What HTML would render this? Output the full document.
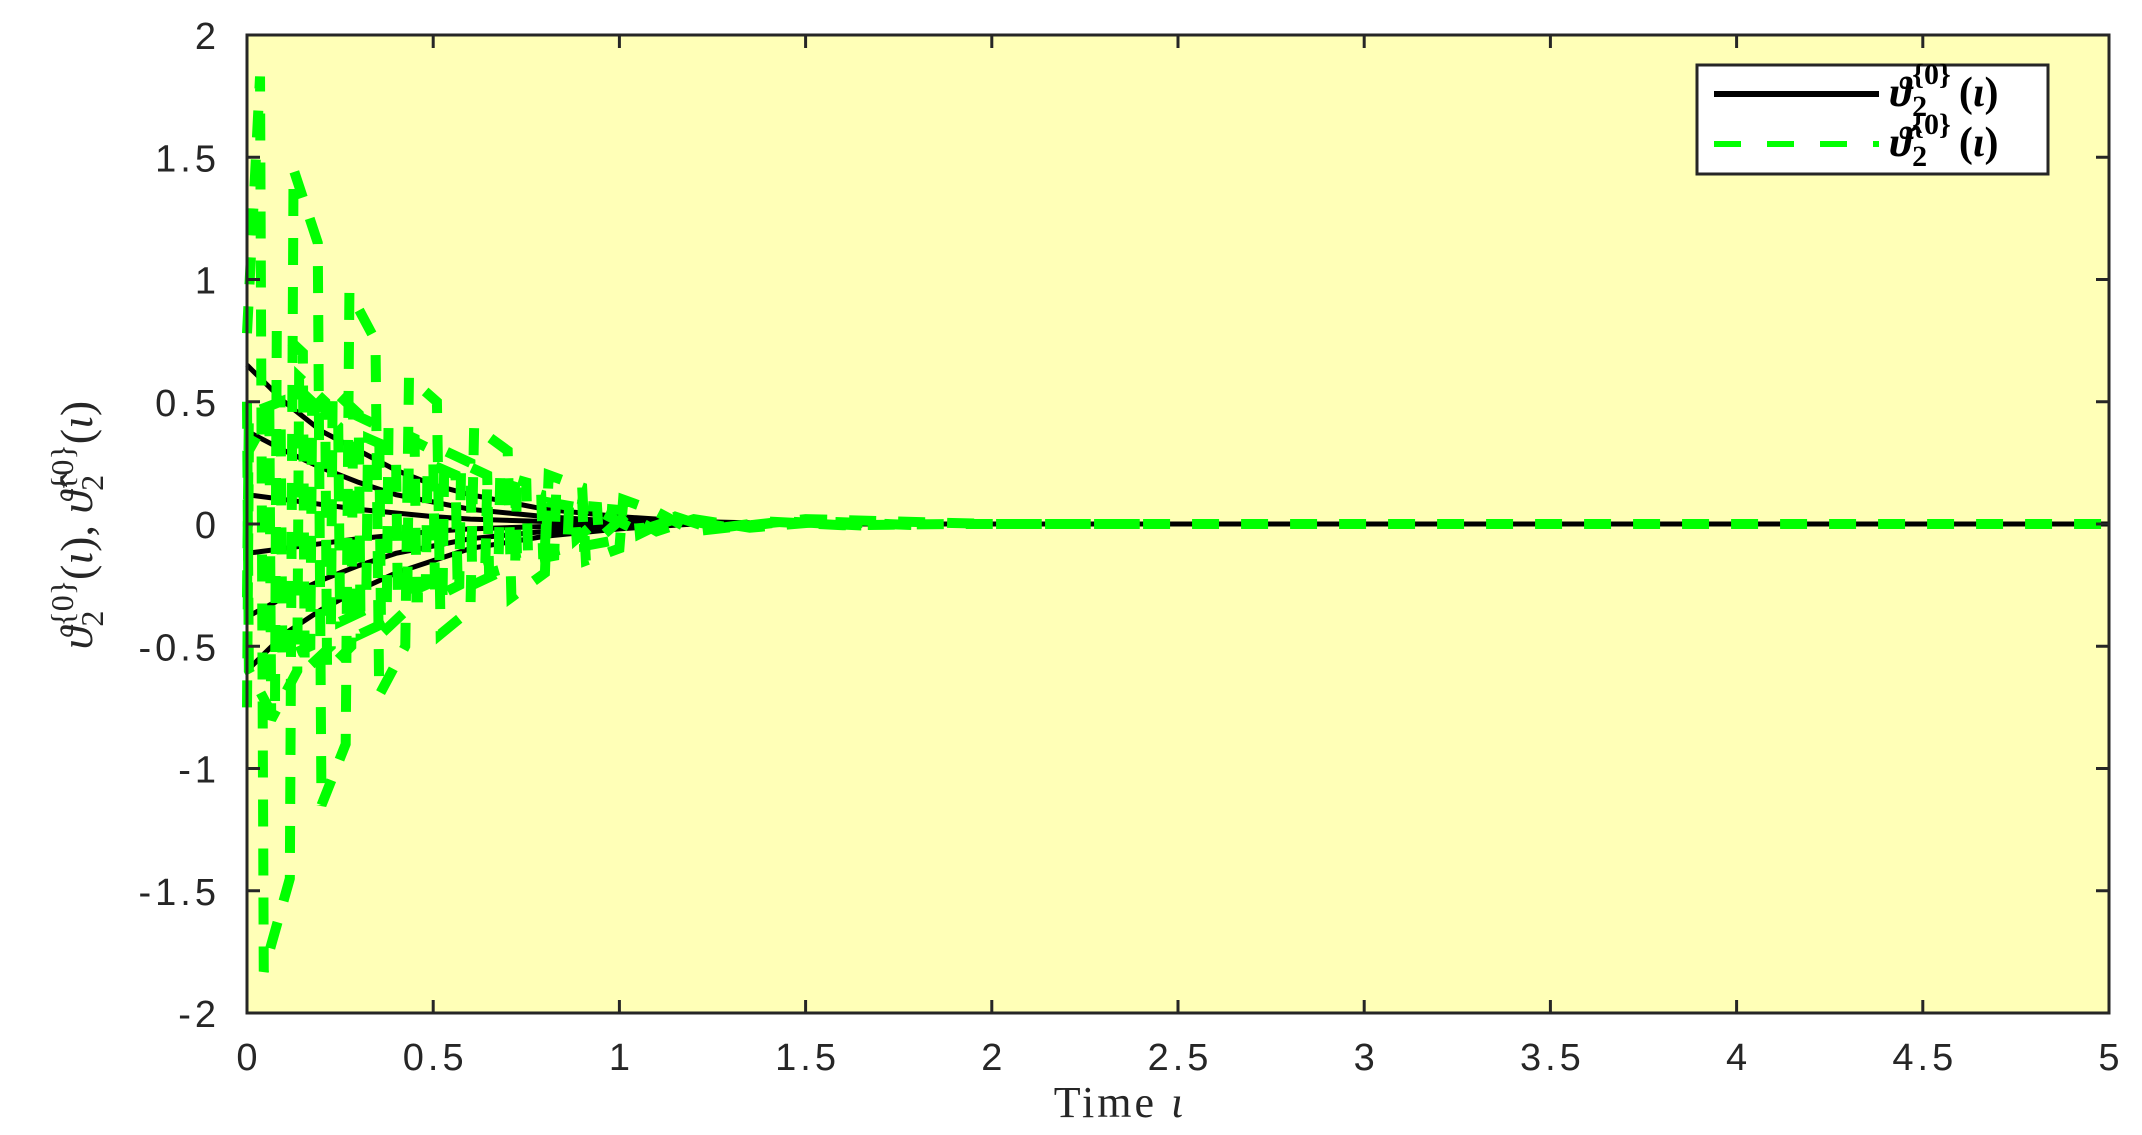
<!DOCTYPE html>
<html><head><meta charset="utf-8"><style>
html,body{margin:0;padding:0;background:#fff;}
svg{display:block;}
</style></head><body>
<svg id="chart" width="2142" height="1135" viewBox="0 0 2142 1135" xmlns="http://www.w3.org/2000/svg">
<rect x="247" y="35" width="1862" height="978" fill="#ffffb7"/>
<g id="marks"></g>
<g id="axes"></g>
<text x="1120" y="1117" font-family="Liberation Serif, serif" font-size="44" fill="#262626" text-anchor="middle" letter-spacing="3">Time   <tspan font-style="italic">ι</tspan></text>
<text transform="translate(92,525) rotate(-90)" font-family="Liberation Serif, serif" font-size="46" fill="#262626" text-anchor="middle"><tspan font-style="italic">ϑ</tspan><tspan font-size="32" dy="11">2</tspan><tspan font-size="32" dy="-30" dx="-16">{0}</tspan><tspan dy="19">(</tspan><tspan font-style="italic">ι</tspan>),  <tspan font-style="italic">ϑ̂</tspan><tspan font-size="32" dy="11">2</tspan><tspan font-size="32" dy="-30" dx="-16">{0}</tspan><tspan dy="19">(</tspan><tspan font-style="italic">ι</tspan>)</text>
<g>
<rect x="1697" y="65" width="351" height="109" fill="#fff" stroke="#262626" stroke-width="3"/>
<line x1="1714" y1="94" x2="1879" y2="94" stroke="#000" stroke-width="6"/>
<line x1="1714" y1="144" x2="1879" y2="144" stroke="#00ff00" stroke-width="6" stroke-dasharray="27 26"/>
<text x="1890" y="106" font-family="Liberation Serif, serif" font-size="42" font-weight="bold" fill="#000"><tspan font-style="italic">ϑ</tspan><tspan font-size="30" dy="10">2</tspan><tspan font-size="30" dy="-32" dx="-15">{0}</tspan><tspan dy="22" dx="8">(</tspan><tspan font-style="italic">ι</tspan>)</text>
<text x="1890" y="156" font-family="Liberation Serif, serif" font-size="42" font-weight="bold" fill="#000"><tspan font-style="italic">ϑ̂</tspan><tspan font-size="30" dy="10">2</tspan><tspan font-size="30" dy="-32" dx="-15">{0}</tspan><tspan dy="22" dx="8">(</tspan><tspan font-style="italic">ι</tspan>)</text>
</g>
</svg>
<script>
const xTicks=[0,0.5,1,1.5,2,2.5,3,3.5,4,4.5,5];
const xTickLabels=["0","0.5","1","1.5","2","2.5","3","3.5","4","4.5","5"];
const yTicks=[-2,-1.5,-1,-0.5,0,0.5,1,1.5,2];
const yTickLabels=["-2","-1.5","-1","-0.5","0","0.5","1","1.5","2"];
const blackT=[0,0.1,0.2,0.3,0.4,0.5,0.6,0.8,1.0,1.2,1.5,2,5];
const black1=[0.65,0.5,0.38,0.3,0.22,0.16,0.12,0.06,0.03,0.01,0,0,0];
const black2=[0.38,0.3,0.23,0.17,0.12,0.09,0.06,0.03,0.01,0,0,0,0];
const black3=[0.12,0.1,0.08,0.06,0.045,0.03,0.02,0.01,0,0,0,0,0];
const black4=[-0.12,-0.1,-0.08,-0.06,-0.045,-0.03,-0.02,-0.01,0,0,0,0,0];
const black5=[-0.38,-0.3,-0.23,-0.17,-0.12,-0.09,-0.06,-0.03,-0.01,0,0,0,0];
const black6=[-0.6,-0.45,-0.35,-0.27,-0.2,-0.15,-0.1,-0.05,-0.02,0,0,0,0];
const g1T=[0,0.035,0.045,0.115,0.125,0.19,0.2,0.265,0.275,0.345,0.355,0.425,0.435,0.51,0.52,0.6,0.61,0.7,0.71,0.8,0.81,0.9,0.91,1.0,1.01,1.1,1.2,1.5,2,5];
const g1V=[0.78,1.83,-1.83,-1.45,1.45,1.15,-1.15,-0.9,0.95,0.75,-0.7,-0.5,0.6,0.5,-0.45,-0.35,0.4,0.3,-0.3,-0.2,0.2,0.15,-0.15,-0.1,0.1,0.05,-0.03,0.02,0,0];
const g2T=[0,0.005,0.075,0.08,0.15,0.155,0.225,0.23,0.3,0.305,0.375,0.38,0.45,0.455,0.525,0.53,0.6,0.605,0.675,0.68,0.75,0.755,0.825,0.83,0.9,0.905,0.975,0.98,1.05,1.055,1.15,1.25,1.4,1.6,1.9,2.4];
const g2V=[0.5,-0.6,-0.8,0.8,0.7,-0.6,-0.5,0.55,0.45,-0.45,-0.4,0.4,0.35,-0.3,-0.3,0.3,0.25,-0.25,-0.2,0.2,0.17,-0.15,-0.13,0.12,0.1,-0.09,-0.07,0.06,0.05,-0.04,0.03,-0.02,0.01,-0.005,0,0];
const g3T=[0,0.005,0.06,0.065,0.135,0.14,0.21,0.215,0.28,0.285,0.355,0.36,0.43,0.435,0.5,0.505,0.57,0.575,0.645,0.65,0.72,0.725,0.79,0.795,0.86,0.865,0.94,0.945,1.02,1.1,1.2,1.35,1.55,1.8];
const g3V=[-0.75,0.3,0.45,-0.8,-0.6,0.6,0.5,-0.6,-0.5,0.45,0.4,-0.45,-0.35,0.35,0.3,-0.3,-0.25,0.25,0.2,-0.2,-0.17,0.15,0.12,-0.12,-0.1,0.08,0.07,-0.06,0.04,-0.03,0.02,-0.015,0.01,-0.005];
const g4T=[0,0.005,0.09,0.095,0.17,0.175,0.245,0.25,0.32,0.325,0.4,0.405,0.48,0.485,0.56,0.565,0.64,0.645,0.72,0.725,0.8,0.805,0.88,0.885,0.96,1.05,1.15,1.3,1.45,1.65];
const g4V=[-0.3,0.45,0.5,-0.55,-0.5,0.5,0.4,-0.4,-0.35,0.35,0.3,-0.3,-0.25,0.25,0.2,-0.2,-0.16,0.16,0.13,-0.12,-0.1,0.09,0.07,-0.06,0.04,-0.03,0.02,-0.015,0.01,-0.006];
const X0=247,X1=2109,Y0=1013,Y1=35;
function sx(v){return X0+(v-0)/(5-0)*(X1-X0);}
function sy(v){return Y0-(v+2)/4*(Y0-Y1);}
const NS="http://www.w3.org/2000/svg";
const marks=document.getElementById('marks');
const axes=document.getElementById('axes');
function poly(T,V,name,stroke,w,dash){
  const p=document.createElementNS(NS,'polyline');
  p.setAttribute('points',T.map((t,i)=>sx(t)+','+sy(V[i])).join(' '));
  p.setAttribute('fill','none');p.setAttribute('stroke',stroke);p.setAttribute('stroke-width',w);
  if(dash)p.setAttribute('stroke-dasharray',dash);
  
  
  marks.appendChild(p);
}
[black1,black2,black3,black4,black5,black6].forEach((b,i)=>poly(blackT,b,'true-state-line-'+(i+1),'#000',5,null));
poly(g1T,g1V,'estimate-line-1','#00ff00',10,'27 22');
poly(g2T,g2V,'estimate-line-2','#00ff00',10,'27 22');
poly(g3T,g3V,'estimate-line-3','#00ff00',10,'27 22');
poly(g4T,g4V,'estimate-line-4','#00ff00',10,'27 22');
const frame=document.createElementNS(NS,'rect');
frame.setAttribute('x',X0);frame.setAttribute('y',Y1);frame.setAttribute('width',X1-X0);frame.setAttribute('height',Y0-Y1);
frame.setAttribute('fill','none');frame.setAttribute('stroke','#262626');frame.setAttribute('stroke-width',3);


axes.appendChild(frame);
function ln(x1,y1,x2,y2,name){
  const l=document.createElementNS(NS,'line');
  l.setAttribute('x1',x1);l.setAttribute('y1',y1);l.setAttribute('x2',x2);l.setAttribute('y2',y2);
  l.setAttribute('stroke','#262626');l.setAttribute('stroke-width',3);
  
  
  axes.appendChild(l);
}
function txt(x,y,s,anchor,name){
  const t=document.createElementNS(NS,'text');
  t.setAttribute('x',x);t.setAttribute('y',y);t.setAttribute('text-anchor',anchor);
  t.setAttribute('font-family','Liberation Sans, sans-serif');t.setAttribute('font-size','38');
  t.setAttribute('fill','#262626');t.setAttribute('letter-spacing','4');
  t.textContent=s;
  
  
  axes.appendChild(t);
}
xTicks.forEach((v,i)=>{const x=sx(v);
  ln(x,Y0,x,Y0-13,'x-tick');ln(x,Y1,x,Y1+13,'x-tick-top');
  txt(x+2,1070,xTickLabels[i],'middle','x-tick-label');});
yTicks.forEach((v,i)=>{const y=sy(v);
  ln(X0,y,X0+13,y,'y-tick');ln(X1,y,X1-13,y,'y-tick-right');
  txt(220,y+14,yTickLabels[i],'end','y-tick-label');});
</script>
</body></html>
